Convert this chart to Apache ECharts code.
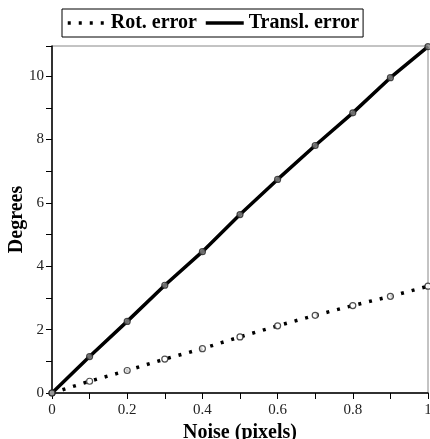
<!DOCTYPE html>
<html>
<head>
<meta charset="utf-8">
<script src="https://cdn.jsdelivr.net/npm/echarts@6/dist/echarts.min.js"></script>
<style>
html,body{margin:0;padding:0;background:#fff;}
#chart{width:430px;height:439px;}
</style>
</head>
<body>
<div id="chart"></div>
<script>
// 噪声水平 (pixels)
var noise = [0, 0.1, 0.2, 0.3, 0.4, 0.5, 0.6, 0.7, 0.8, 0.9, 1];
// 旋转误差
var rotError = [0, 0.37, 0.71, 1.07, 1.40, 1.77, 2.12, 2.45, 2.76, 3.05, 3.37];
// 平移误差
var translError = [0, 1.15, 2.26, 3.40, 4.46, 5.63, 6.74, 7.81, 8.84, 9.95, 10.93];
var seriesNames = ['Rot. error', 'Transl. error'];
var yName = 'Degrees';

var serif = 'Liberation Serif';

function pairs(ys) {
    var arr = [];
    for (var i = 0; i < noise.length; i++) {
        arr.push([noise[i], ys[i]]);
    }
    return arr;
}

var chart = echarts.init(document.getElementById('chart'));
var option = {
    backgroundColor: '#fff',
    animation: false,
    legend: {
        left: 62,
        top: 9,
        data: seriesNames,
        borderColor: '#000',
        borderWidth: 1,
        padding: [4, 4, 4, 4],
        itemGap: 7,
        itemWidth: 38,
        itemHeight: 14,
        itemStyle: {opacity: 0},
        lineStyle: {width: 3.5},
        textStyle: {
            fontFamily: serif,
            fontWeight: 'bold',
            fontSize: 20,
            color: '#000'
        }
    },
    //y轴名称
    graphic: [{
        type: 'text',
        left: 7,
        top: 'middle',
        rotation: Math.PI / 2,
        style: {
            text: yName,
            fontFamily: serif,
            fontWeight: 'bold',
            fontSize: 20,
            fill: '#000'
        }
    }],
    grid: {
        left: 52,
        right: 2,
        top: 46,
        bottom: 46,
        outerBoundsMode: 'none',
        containLabel: false,
        show: true,
        borderColor: '#888',
        borderWidth: 1
    },
    xAxis: {
        type: 'value',
        min: 0,
        max: 1,
        interval: 0.2,
        name: 'Noise (pixels)',
        nameLocation: 'middle',
        nameGap: 30,
        nameTextStyle: {fontFamily: serif, fontWeight: 'bold', fontSize: 20, color: '#000'},
        axisLine: {show: true, lineStyle: {color: '#000', width: 1.5}},
        axisTick: {show: true, length: 6, lineStyle: {color: '#000'}},
        minorTick: {show: true, splitNumber: 2, length: 6, lineStyle: {color: '#000'}},
        splitLine: {show: false},
        axisLabel: {fontFamily: serif, fontSize: 15, color: '#222', margin: 10}
    },
    yAxis: {
        type: 'value',
        min: 0,
        max: 10.95,
        interval: 2,
        axisLine: {show: true, lineStyle: {color: '#000', width: 1.5}},
        axisTick: {show: true, length: 6, lineStyle: {color: '#000'}},
        minorTick: {show: true, splitNumber: 2, length: 6, lineStyle: {color: '#000'}},
        splitLine: {show: false},
        axisLabel: {fontFamily: serif, fontSize: 15, color: '#222', margin: 8, showMaxLabel: false}
    },
    series: [
        {
            name: seriesNames[0],
            type: 'line',
            data: pairs(rotError),
            symbol: 'none',
            lineStyle: {color: '#000', width: 3.5, type: [3, 8], cap: 'butt'},
            itemStyle: {color: '#000'},
            z: 2
        },
        {
            name: seriesNames[1],
            type: 'line',
            data: pairs(translError),
            symbol: 'none',
            lineStyle: {color: '#000', width: 3.5},
            itemStyle: {color: '#000'},
            z: 2
        },
        {
            name: 'rotPts',
            type: 'scatter',
            data: pairs(rotError),
            symbol: 'circle',
            symbolSize: 6,
            itemStyle: {color: '#fff', borderColor: '#222', borderWidth: 1.2},
            z: 3
        },
        {
            name: 'translPts',
            type: 'scatter',
            data: pairs(translError),
            symbol: 'circle',
            symbolSize: 6,
            itemStyle: {color: '#888', borderColor: '#222', borderWidth: 1.2},
            z: 3
        }
    ]
};
chart.setOption(option);
</script>
</body>
</html>
